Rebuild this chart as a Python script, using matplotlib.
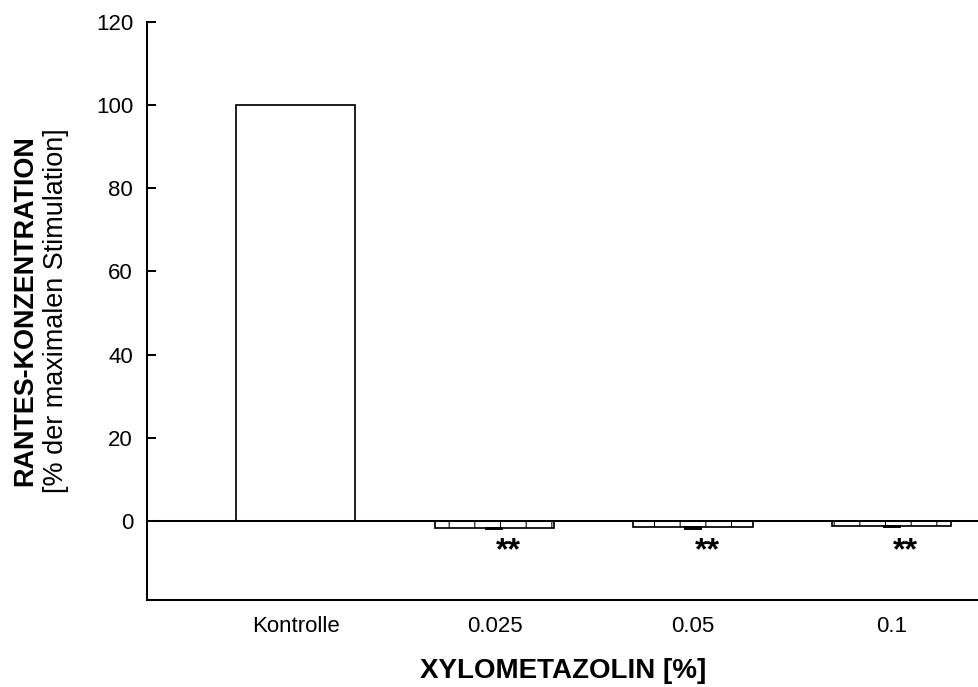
import numpy as np
import matplotlib
matplotlib.use('Agg')
import matplotlib.pyplot as plt

plt.rcParams['font.family'] = ['Liberation Sans', 'DejaVu Sans']
plt.rcParams['hatch.linewidth'] = 0.5

# RANTES concentration, % of maximal stimulation
groups = ['Kontrolle', '0.025', '0.05', '0.1']
values = [100.0, -1.7, -1.5, -1.2]
errors = [0.0, 0.15, 0.5, 0.3]
signif = ['', '**', '**', '**']

DPI = 154
fig = plt.figure(figsize=(979 / DPI, 687 / DPI), dpi=DPI)
ax = fig.add_axes([147 / 979, 87 / 687, 832 / 979, 578 / 687])

x = np.arange(len(groups))
for i in range(len(groups)):
    ax.bar(x[i], values[i], width=0.6, color='white', edgecolor='black',
           linewidth=0.8, hatch='|' if values[i] < 0 else None, zorder=2)
    if errors[i] > 0:
        ax.errorbar(x[i], values[i], yerr=[[errors[i]], [0]], fmt='none',
                    ecolor='black', elinewidth=0.9, capsize=4.2, capthick=0.9,
                    zorder=3)
    if signif[i]:
        ax.text(x[i] + 0.07, -7.3, signif[i], ha='center', va='center',
                fontsize=15, fontweight='bold')

ax.axhline(0, color='black', linewidth=0.95, zorder=4)

ax.set_xlim(-0.75, 3.44)
ax.set_ylim(-19, 120)
ax.set_yticks(np.arange(0, 121, 20))
ax.set_xticks(x)
ax.set_xticklabels(groups)

ax.spines['top'].set_visible(False)
ax.spines['right'].set_visible(False)
ax.spines['left'].set_linewidth(0.95)
ax.spines['bottom'].set_linewidth(0.95)
ax.tick_params(axis='y', direction='in', length=4.2, width=0.95, pad=6.5,
               labelsize=10.4)
ax.tick_params(axis='x', length=0, pad=7.5, labelsize=10.4)

ax.set_xlabel('XYLOMETAZOLIN [%]', fontsize=13, fontweight='bold', labelpad=10)
ax.text(-0.1466, 0.5, 'RANTES-KONZENTRATION', transform=ax.transAxes,
        rotation=90, ha='center', va='center', fontsize=12.6, fontweight='bold')
ax.text(-0.109, 0.5, '[% der maximalen Stimulation]', transform=ax.transAxes,
        rotation=90, ha='center', va='center', fontsize=12.6)

fig.savefig('out.png', dpi=DPI)
